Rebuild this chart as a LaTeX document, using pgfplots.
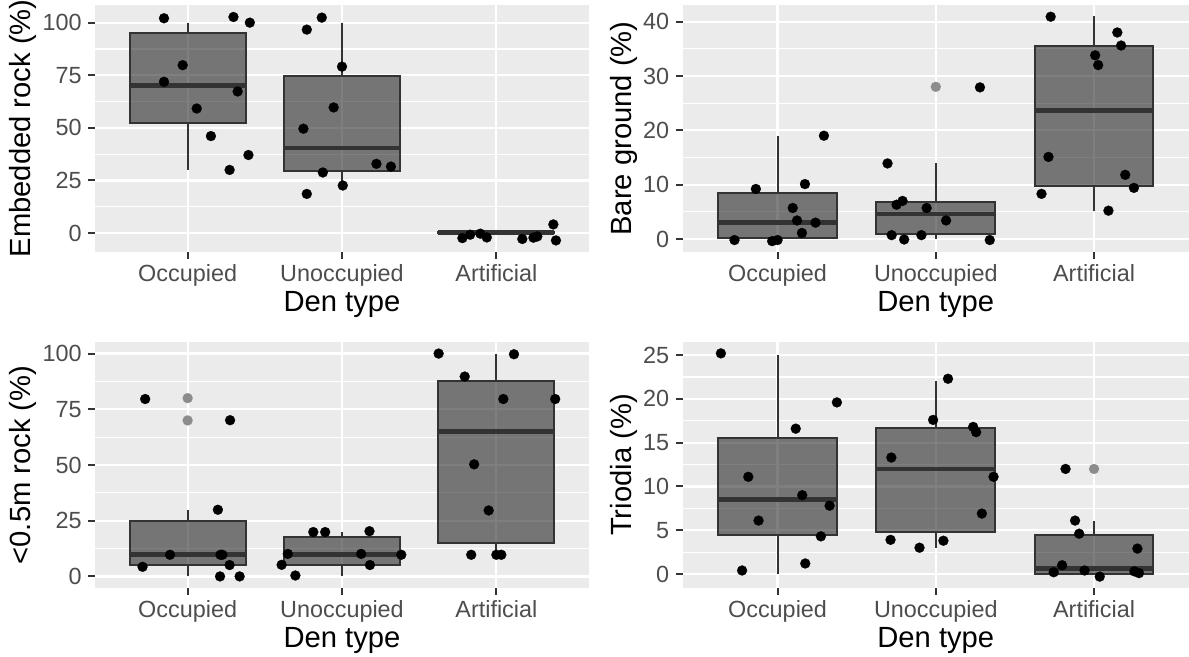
\documentclass[border=0pt]{standalone}
\usepackage{fontspec}
\setmainfont{Liberation Sans}
\usepackage{pgfplots}
\pgfplotsset{compat=1.18}
\usepgfplotslibrary{statistics}
\definecolor{panelbg}{HTML}{EBEBEB}
\definecolor{gray20}{HTML}{333333}
\definecolor{gray30}{HTML}{4D4D4D}
\pgfplotsset{
  gg/.style={
    scale only axis, anchor=south west,
    xmin=0.4, xmax=3.6,
    xtick={1,2,3}, xticklabels={Occupied,Unoccupied,Artificial},
    axis background/.style={fill=panelbg},
    axis line style={draw=none},
    tick align=outside,
    xtick pos=bottom, ytick pos=left,
    major tick length=3.4pt, minor tick length=0pt,
    every tick/.style={gray20, line width=1pt},
    xmajorgrids, ymajorgrids, yminorgrids,
    minor y tick num=1,
    major grid style={white, line width=1.1pt},
    minor grid style={white, line width=0.55pt},
    tick label style={font=\fontsize{11.7}{13}\selectfont, text=gray30},
    /pgf/number format/assume math mode=true,
    xticklabel style={anchor=base, inner sep=0pt, yshift=-11.6pt},
    yticklabel style={anchor=east, inner sep=0pt, xshift=-3.1pt},
    label style={font=\fontsize{14.6}{16}\selectfont, text=black},
    xlabel={Den type},
    xlabel style={at={(axis description cs:0.5,0)}, anchor=base, inner sep=0pt, yshift=-30pt},
    clip=false,
  },
  bx/.style={draw=gray20, line width=1pt, fill=black, fill opacity=0.5,
    boxplot/draw direction=y,
    boxplot/every median/.style={line width=2.4pt, draw=gray20},
    boxplot/every whisker/.style={line width=1pt, draw=gray20}},
  bp/.style n args={6}{boxplot prepared={draw position=#1, lower whisker=#2, lower quartile=#3, median=#4, upper quartile=#5, upper whisker=#6, box extend=0.75, whisker extend=0}},
  pts/.style={only marks, mark=*, mark size=2.5pt, black, mark options={fill=black, draw=black, line width=0.1pt}},
  outl/.style={only marks, mark=*, mark size=2.5pt, black!45, mark options={fill=black!45, draw=black!45, line width=0.1pt}},
}
\begin{document}
\begin{tikzpicture}
\useasboundingbox (0,0) rectangle (594.5pt,328.5pt);
% ---------------- Panel 1
\begin{axis}[gg, at={(47.5pt,202.5pt)}, width=247pt, height=123.6pt,
  ymin=-9, ymax=108.5, ytick={0,25,50,75,100},
  ylabel={Embedded rock (\%)},
  ylabel style={at={(axis description cs:-0.1457,0.5)}, anchor=center}]
\addplot[bx, bp={1}{30}{52.3}{70.3}{95}{100}] coordinates {};
\addplot[bx, bp={2}{22}{29.5}{40.4}{74.7}{100}] coordinates {};
\addplot[bx, bp={3}{0}{0}{0.2}{0.5}{0.5}] coordinates {};
\addplot[pts] coordinates {(0.847,102.1) (1.297,102.7) (1.403,100) (0.968,79.8) (0.847,71.9) (1.324,67.3) (1.059,59.2) (1.151,46.1) (1.394,37.1) (1.272,30.0)};
\addplot[pts] coordinates {(1.772,96.7) (1.869,102.4) (2.0,79.1) (1.946,59.7) (1.75,49.6) (1.876,28.8) (2.005,22.6) (1.772,18.6) (2.223,32.9) (2.317,31.6)};
\addplot[pts] coordinates {(2.78,-2.4) (2.83,-0.8) (2.896,-0.3) (2.938,-2.1) (3.168,-2.8) (3.24,-2.2) (3.265,-1.6) (3.369,4.1) (3.386,-3.5)};
\end{axis}
% ---------------- Panel 2
\begin{axis}[gg, at={(341.3pt,202.5pt)}, width=253.2pt, height=123.6pt,
  ymin=-2.4, ymax=43.1, ytick={0,10,20,30,40},
  ylabel={Bare ground (\%)},
  ylabel style={at={(axis description cs:-0.1157,0.5)}, anchor=center}]
\addplot[bx, bp={1}{0}{0.25}{3.1}{8.4}{19}] coordinates {};
\addplot[bx, bp={2}{0}{1.0}{4.6}{6.8}{14}] coordinates {};
\addplot[bx, bp={3}{5.2}{9.7}{23.6}{35.6}{41}] coordinates {};
\addplot[outl] coordinates {(2,28)};
\addplot[pts] coordinates {(0.728,-0.2) (0.863,9.2) (0.966,-0.4) (1.0,-0.2) (1.096,5.7) (1.123,3.4) (1.173,10.1) (1.240,3.0) (1.154,1.1) (1.293,19.0)};
\addplot[pts] coordinates {(1.695,13.9) (1.752,6.3) (1.79,7.0) (1.942,5.7) (2.065,3.4) (1.721,0.7) (1.8,-0.1) (1.909,0.7) (2.341,-0.2) (2.279,27.9)};
\addplot[pts] coordinates {(2.726,40.9) (3.147,38.0) (3.171,35.6) (3.007,33.8) (3.026,32.0) (2.712,15.1) (3.197,11.8) (3.252,9.4) (2.668,8.3) (3.091,5.2)};
\end{axis}
% ---------------- Panel 3
\begin{axis}[gg, at={(47.5pt,34.5pt)}, width=247pt, height=123pt,
  ymin=-5.2, ymax=105.2, ytick={0,25,50,75,100},
  ylabel={<0.5m rock (\%)},
  ylabel style={at={(axis description cs:-0.1457,0.5)}, anchor=center}]
\addplot[bx, bp={1}{0}{5}{10}{25}{30}] coordinates {};
\addplot[bx, bp={2}{0}{5}{10}{17.5}{20}] coordinates {};
\addplot[bx, bp={3}{10}{15}{65}{87.5}{100}] coordinates {};
\addplot[outl] coordinates {(1,80) (1,70)};
\addplot[pts] coordinates {(0.725,79.6) (1.275,70.1) (1.196,29.9) (0.886,9.7) (1.213,9.7) (1.225,9.7) (0.708,4.3) (1.272,5.1) (1.21,0) (1.337,0)};
\addplot[pts] coordinates {(1.814,19.9) (1.891,19.9) (2.178,20.3) (1.649,10.1) (2.124,10.1) (2.384,9.7) (1.609,5.2) (2.181,5.1) (1.698,0.4)};
\addplot[pts] coordinates {(2.626,100) (3.114,99.7) (2.795,89.7) (3.045,79.6) (3.381,79.6) (2.856,50.3) (2.95,29.6) (2.837,9.7) (3.0,9.7) (3.032,9.7)};
\end{axis}
% ---------------- Panel 4
\begin{axis}[gg, at={(341.3pt,34.5pt)}, width=253.2pt, height=123pt,
  ymin=-1.6, ymax=26.5, ytick={0,5,10,15,20,25},
  ylabel={Triodia (\%)},
  ylabel style={at={(axis description cs:-0.1157,0.5)}, anchor=center}]
\addplot[bx, bp={1}{0}{4.5}{8.5}{15.5}{25}] coordinates {};
\addplot[bx, bp={2}{3}{4.8}{12}{16.7}{22}] coordinates {};
\addplot[bx, bp={3}{0}{0}{0.6}{4.5}{6}] coordinates {};
\addplot[outl] coordinates {(3,12)};
\addplot[pts] coordinates {(0.642,25.2) (1.375,19.6) (1.115,16.6) (0.815,11.1) (1.156,9.0) (1.329,7.8) (0.88,6.1) (1.274,4.3) (1.175,1.2) (0.776,0.4)};
\addplot[pts] coordinates {(2.077,22.3) (1.983,17.6) (2.236,16.8) (2.255,16.2) (1.719,13.3) (2.365,11.1) (2.291,6.9) (1.714,3.9) (2.048,3.8) (1.897,3.0)};
\addplot[pts] coordinates {(2.82,12.0) (2.88,6.1) (2.906,4.6) (3.274,2.9) (2.798,1.0) (2.745,0.2) (2.94,0.4) (3.255,0.3) (3.284,0.1) (3.036,-0.3)};
\end{axis}
\end{tikzpicture}
\end{document}
